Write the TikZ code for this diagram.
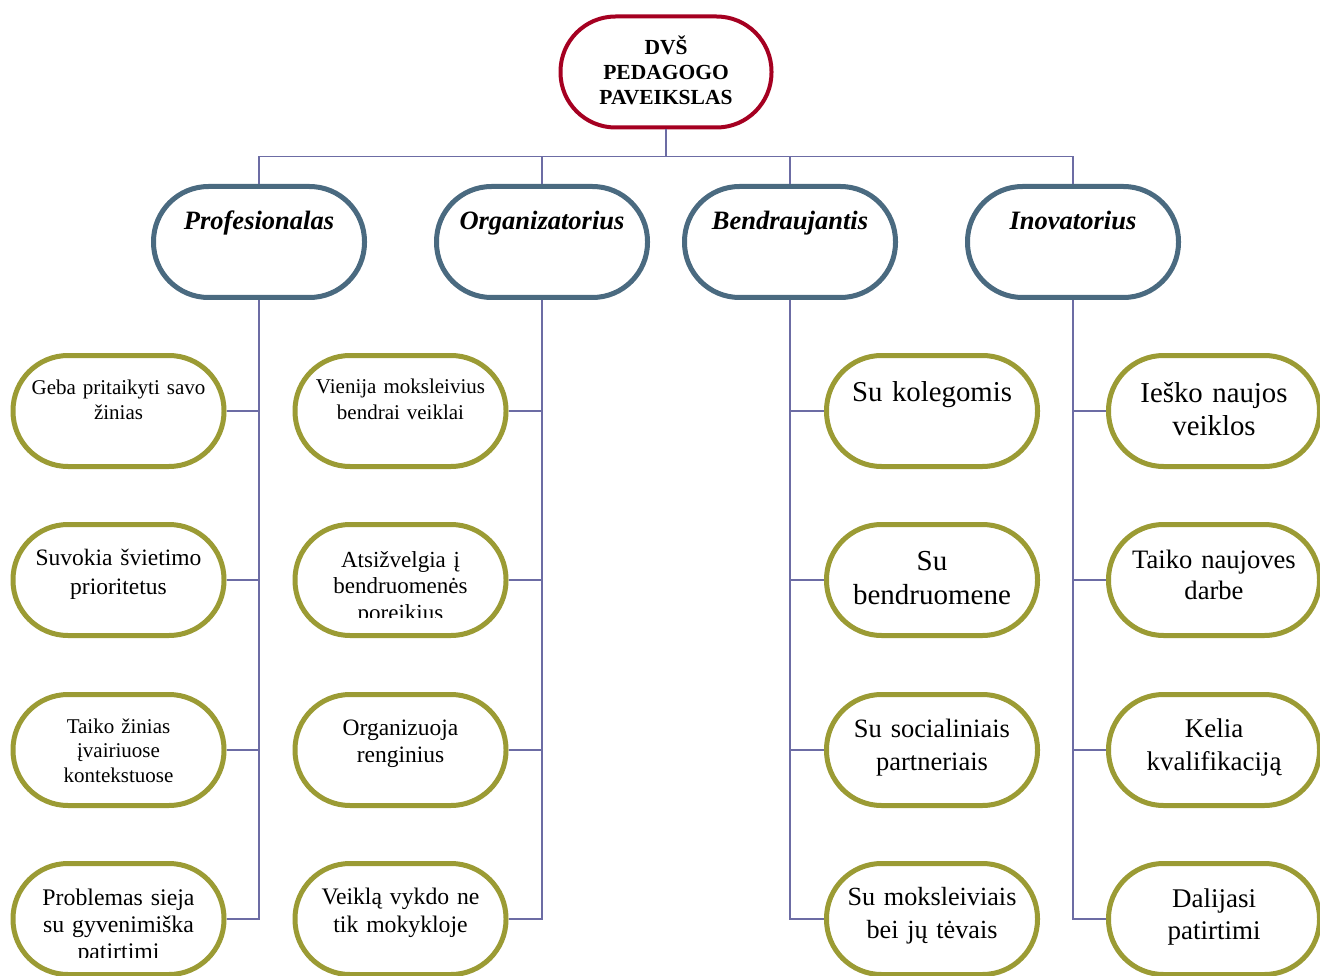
\documentclass[tikz,border=0pt]{standalone}
\usepackage{fontspec}
\setmainfont{Liberation Serif}
\definecolor{rootred}{RGB}{165,0,33}
\definecolor{slate}{RGB}{74,106,128}
\definecolor{olive}{RGB}{155,155,52}
\definecolor{connc}{RGB}{108,108,164}
\tikzset{
  box/.style={draw, fill=white, minimum width=211pt, minimum height=111pt, rounded corners=55pt, inner sep=0pt},
  rootbox/.style={box, draw=rootred, line width=4pt},
  midbox/.style={box, draw=slate, line width=5pt},
  leafbox/.style={box, draw=olive, line width=5pt},
  conn/.style={draw=connc, line width=1.8pt},
  txt/.style={anchor=base, text width=208pt, align=center, inner sep=0pt},
}
\newcommand{\fs}[2]{\fontsize{#1}{#2}\selectfont}
\begin{document}
\begin{tikzpicture}[x=1pt,y=-1pt]
\clip (0,0) rectangle (1320,976);
\fill[white] (0,0) rectangle (1320,976);
% boxes
\node[rootbox] (R) at (666,72) {};
\node[midbox] (P) at (259,242) {};
\node[midbox] (O) at (542,242) {};
\node[midbox] (B) at (790,242) {};
\node[midbox] (I) at (1073,242) {};
% connectors
\draw[conn] (R.south) -- ++(0,27) coordinate (J);
\draw[conn] (P.north) |- (J) -| (I.north);
\draw[conn] (J) -| (O.north);
\draw[conn] (J) -| (B.north);
% leaf positions
\foreach \n/\x in {p/118.5,o/400.5,b/932,i/1214}{
  \foreach \k/\y in {1/411,2/580,3/750,4/919}{
    \coordinate (\n\k c) at (\x,\y);
  }
}
\node[leafbox] (p1) at (p1c) {};
\node[leafbox] (p2) at (p2c) {};
\node[leafbox] (p3) at (p3c) {};
\node[leafbox] (p4) at (p4c) {};
\node[leafbox] (o1) at (o1c) {};
\node[leafbox] (o2) at (o2c) {};
\node[leafbox] (o3) at (o3c) {};
\node[leafbox] (o4) at (o4c) {};
\node[leafbox] (b1) at (b1c) {};
\node[leafbox] (b2) at (b2c) {};
\node[leafbox] (b3) at (b3c) {};
\node[leafbox] (b4) at (b4c) {};
\node[leafbox] (i1) at (i1c) {};
\node[leafbox] (i2) at (i2c) {};
\node[leafbox] (i3) at (i3c) {};
\node[leafbox] (i4) at (i4c) {};
% leaf connectors
\draw[conn] (P.south) |- (p4.east);
\draw[conn] (P.south |- p1.east) -- (p1.east);
\draw[conn] (P.south |- p2.east) -- (p2.east);
\draw[conn] (P.south |- p3.east) -- (p3.east);
\draw[conn] (O.south) |- (o4.east);
\draw[conn] (O.south |- o1.east) -- (o1.east);
\draw[conn] (O.south |- o2.east) -- (o2.east);
\draw[conn] (O.south |- o3.east) -- (o3.east);
\draw[conn] (B.south) |- (b4.west);
\draw[conn] (B.south |- b1.west) -- (b1.west);
\draw[conn] (B.south |- b2.west) -- (b2.west);
\draw[conn] (B.south |- b3.west) -- (b3.west);
\draw[conn] (I.south) |- (i4.west);
\draw[conn] (I.south |- i1.west) -- (i1.west);
\draw[conn] (I.south |- i2.west) -- (i2.west);
\draw[conn] (I.south |- i3.west) -- (i3.west);
% texts
\node[txt, font=\fs{21.5}{25}\bfseries] (Rt) at (666,55) {DVŠ\\PEDAGOGO\\PAVEIKSLAS};
\node[txt, font=\fs{26.5}{30}\bfseries\itshape] (Pt) at (259,230) {Profesionalas};
\node[txt, font=\fs{26.5}{30}\bfseries\itshape] (Ot) at (542,230) {Organizatorius};
\node[txt, font=\fs{26.5}{30}\bfseries\itshape] (Bt) at (790,230) {Bendraujantis};
\node[txt, font=\fs{26.5}{30}\bfseries\itshape] (It) at (1073,230) {Inovatorius};
% column 1
\node[txt, font=\fs{21}{25}] (p1t) at (118.5,394) {Geba pritaikyti savo\\žinias};
\node[txt, font=\fs{23.5}{29}] (p2t) at (118.5,565) {Suvokia švietimo\\prioritetus};
\node[txt, font=\fs{21}{24.5}] (p3t) at (118.5,733) {Taiko žinias\\įvairiuose\\kontekstuose};
\begin{scope}
\clip (0,850) rectangle (240,957);
\node[txt, font=\fs{23.8}{27}] (p4t) at (118.5,905) {Problemas sieja\\su gyvenimiška\\patirtimi};
\end{scope}
% column 2
\node[txt, font=\fs{21}{26}] (o1t) at (400.5,393) {Vienija moksleivius\\bendrai veiklai};
\begin{scope}
\clip (280,500) rectangle (520,617);
\node[txt, font=\fs{23}{26.5}] (o2t) at (400.5,567) {Atsižvelgia į\\bendruomenės\\poreikius};
\end{scope}
\node[txt, font=\fs{23.5}{27}] (o3t) at (400.5,735) {Organizuoja\\renginius};
\node[txt, font=\fs{23.7}{28}] (o4t) at (400.5,904) {Veiklą vykdo ne\\tik mokykloje};
% column 3
\node[txt, font=\fs{28.8}{33}] (b1t) at (932,401) {Su kolegomis};
\node[txt, font=\fs{29}{34}] (b2t) at (932,570) {Su\\bendruomene};
\node[txt, font=\fs{26.5}{33}] (b3t) at (932,737) {Su socialiniais\\partneriais};
\node[txt, font=\fs{26.2}{33}] (b4t) at (932,905) {Su moksleiviais\\bei jų tėvais};
% column 4
\node[txt, font=\fs{28.8}{33}] (i1t) at (1214,402) {Ieško naujos\\veiklos};
\node[txt, font=\fs{26.6}{31}] (i2t) at (1214,568) {Taiko naujoves\\darbe};
\node[txt, font=\fs{27}{33}] (i3t) at (1214,737) {Kelia\\kvalifikaciją};
\node[txt, font=\fs{27}{32}] (i4t) at (1214,907) {Dalijasi\\patirtimi};
\end{tikzpicture}
\end{document}
